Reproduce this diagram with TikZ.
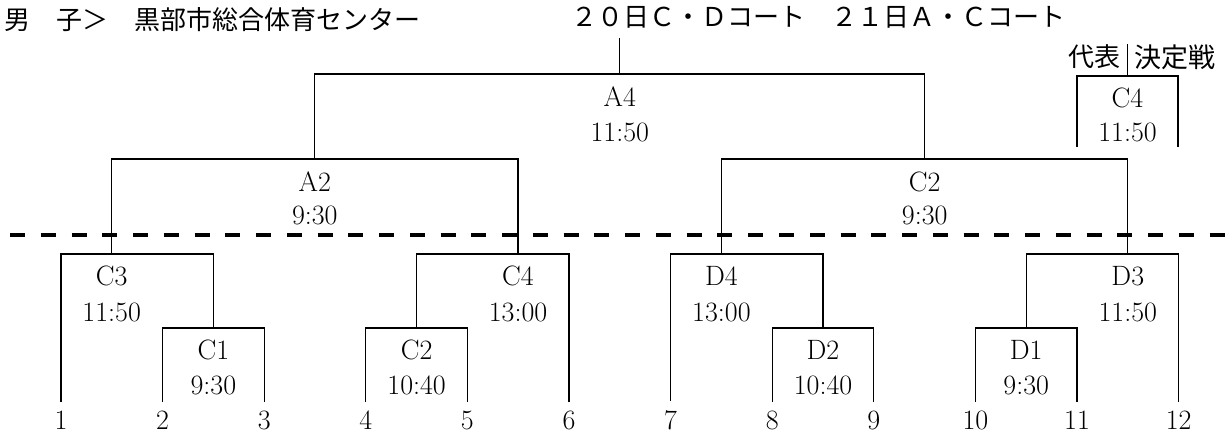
\documentclass[tikz,border=0pt]{standalone}
\usepackage{fontspec}
\newfontfamily\jpfont{Noto Sans CJK JP}
\tikzset{
  hbar/.style={line width=2pt},
  vbar/.style={line width=1.1pt},
  num/.style={font=\fontsize{28}{32}\selectfont, inner sep=0pt, outer sep=0pt},
  leaf/.style={num, inner ysep=8.9pt},
  jptext/.style={font=\jpfont\fontsize{26}{30}\selectfont, inner sep=0pt},
  cut/.style={line width=3.5pt, dash pattern=on 15pt off 15.76pt},
}
\begin{document}
\begin{tikzpicture}[x=1pt, y=-1pt]
  \useasboundingbox (0,0) rectangle (1228,435);

  % header
  \node[jptext, anchor=west] (head) at (4,20) {男　子＞　黒部市総合体育センター};
  \node[jptext, anchor=west] (courts) at (571,17) {２０日Ｃ・Ｄコート　２１日Ａ・Ｃコート};

  % entry numbers
  \node[leaf] (p1) at (61,420) {1};
  \node[leaf] (p2) at (162.6,420) {2};
  \node[leaf] (p3) at (264.2,420) {3};
  \node[leaf] (p4) at (365.8,420) {4};
  \node[leaf] (p5) at (467.4,420) {5};
  \node[leaf] (p6) at (569,420) {6};
  \node[leaf] (p7) at (670.6,420) {7};
  \node[leaf] (p8) at (772.2,420) {8};
  \node[leaf] (p9) at (873.8,420) {9};
  \node[leaf] (p10) at (975.4,420) {10};
  \node[leaf] (p11) at (1077,420) {11};
  \node[leaf] (p12) at (1178.6,420) {12};

  % first round
  \coordinate (c1) at (213.4,328);
  \coordinate (c2) at (416.6,328);
  \coordinate (d2) at (823,328);
  \coordinate (d1) at (1026.2,328);
  \draw[vbar] (p2.north) |- (c1) -| (p3.north);
  \draw[hbar] (p2.north |- c1) -- (p3.north |- c1);
  \draw[vbar] (p4.north) |- (c2) -| (p5.north);
  \draw[hbar] (p4.north |- c2) -- (p5.north |- c2);
  \draw[vbar] (p8.north) |- (d2) -| (p9.north);
  \draw[hbar] (p8.north |- d2) -- (p9.north |- d2);
  \draw[vbar] (p10.north) |- (d1) -| (p11.north);
  \draw[hbar] (p10.north |- d1) -- (p11.north |- d1);
  \node[num] (c1n) at (213.4,350) {C1};
  \node[num] (c1t) at (213.4,385) {9:30};
  \node[num] (c2n) at (416.6,350) {C2};
  \node[num] (c2t) at (416.6,385) {10:40};
  \node[num] (d2n) at (823,350) {D2};
  \node[num] (d2t) at (823,385) {10:40};
  \node[num] (d1n) at (1026.2,350) {D1};
  \node[num] (d1t) at (1026.2,385) {9:30};

  % second round
  \coordinate (c3) at (111.7,254);
  \coordinate (c4) at (518,254);
  \coordinate (d4) at (721.4,254);
  \coordinate (d3) at (1127.8,254);
  \draw[vbar] (p1.north) |- (c3) -| (c1);
  \draw[hbar] (p1.north |- c3) -- (c1 |- c3);
  \draw[vbar] (c2) |- (c4) -| (p6.north);
  \draw[hbar] (c2 |- c4) -- (p6.north |- c4);
  \draw[vbar] (p7.north) |- (d4) -| (d2);
  \draw[hbar] (p7.north |- d4) -- (d2 |- d4);
  \draw[vbar] (d1) |- (d3) -| (p12.north);
  \draw[hbar] (d1 |- d3) -- (p12.north |- d3);
  \node[num] (c3n) at (111.7,276) {C3};
  \node[num] (c3t) at (111.7,312) {11:50};
  \node[num] (c4n) at (518,276) {C4};
  \node[num] (c4t) at (518,312) {13:00};
  \node[num] (d4n) at (721.4,276) {D4};
  \node[num] (d4t) at (721.4,312) {13:00};
  \node[num] (d3n) at (1127.8,276) {D3};
  \node[num] (d3t) at (1127.8,312) {11:50};

  % semi finals
  \coordinate (a2) at (314.8,159);
  \coordinate (c2u) at (924.7,159);
  \draw[vbar] (c3) |- (a2) -| (c4);
  \draw[hbar] (c3 |- a2) -- (c4 |- a2);
  \draw[vbar] (d4) |- (c2u) -| (d3);
  \draw[hbar] (d4 |- c2u) -- (d3 |- c2u);
  \node[num] (a2n) at (314.8,182) {A2};
  \node[num] (a2t) at (314.8,215) {9:30};
  \node[num] (c2un) at (924.7,182) {C2};
  \node[num] (c2ut) at (924.7,215) {9:30};

  % final
  \coordinate (a4) at (619.8,74);
  \coordinate (top) at (619.8,38);
  \draw[vbar] (a2) |- (a4) -| (c2u);
  \draw[hbar] (a2 |- a4) -- (c2u |- a4);
  \draw[vbar] (a4) -- (top);
  \node[num] (a4n) at (619.8,97) {A4};
  \node[num] (a4t) at (619.8,132) {11:50};

  % representative play-off
  \coordinate (rep) at (1127.5,76);
  \coordinate (repL) at (1077,147);
  \coordinate (repR) at (1178,147);
  \coordinate (repTop) at (1127.5,44);
  \draw[vbar] (repL) |- (rep) -| (repR);
  \draw[hbar] (repL |- rep) -- (repR |- rep);
  \draw[hbar] (repR) -- (repR |- rep);
  \draw[vbar] (rep) -- (repTop);
  \node[jptext, anchor=east] (daihyo) at (1121,57) {代表};
  \node[jptext, anchor=west, font=\jpfont\fontsize{27}{30}\selectfont] (kettei) at (1134,57) {決定戦};
  \node[num] (repn) at (1127.5,98) {C4};
  \node[num] (rept) at (1127.5,132) {11:50};

  % day split
  \coordinate (cutL) at (10,235);
  \coordinate (cutR) at (1228,235);
  \draw[cut] (cutL) -- (cutR);
\end{tikzpicture}
\end{document}
